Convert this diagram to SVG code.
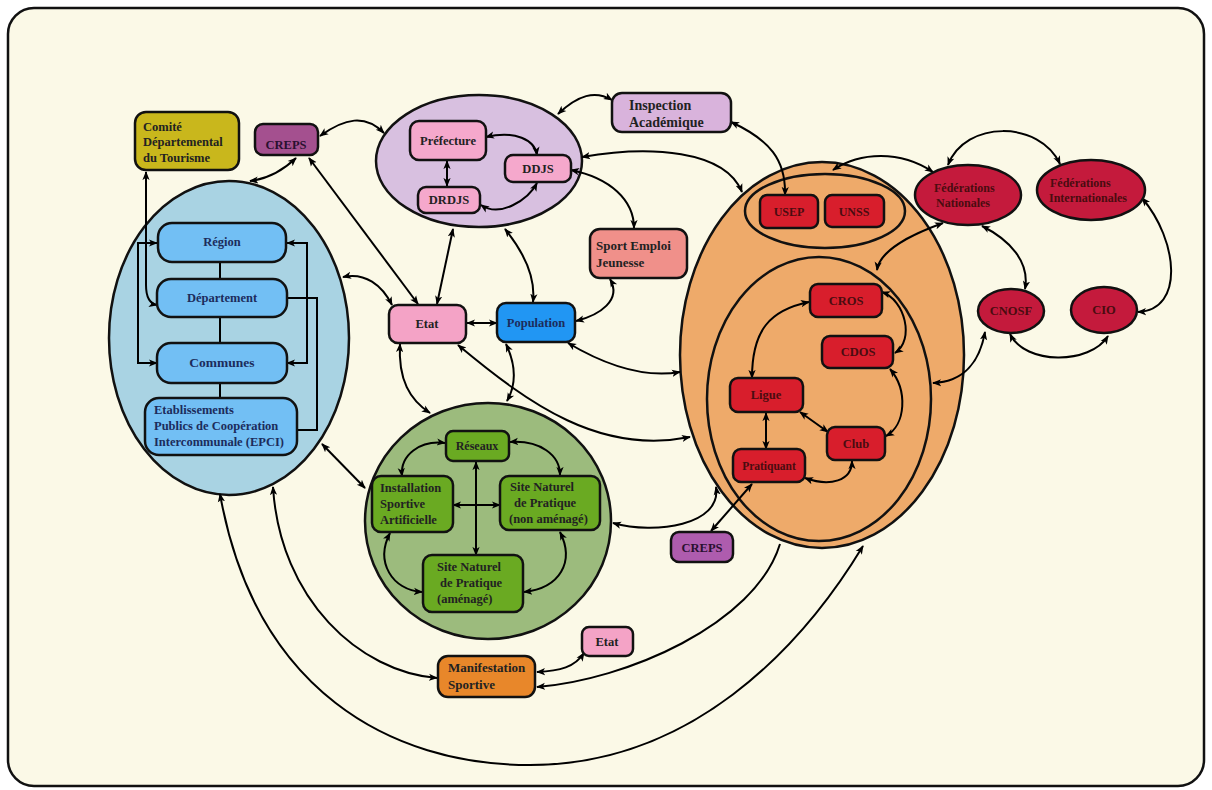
<svg xmlns="http://www.w3.org/2000/svg" width="1212" height="790" viewBox="0 0 1212 790">
<defs>
<marker id="ar" viewBox="0 0 10 10" refX="9" refY="5" markerWidth="9" markerHeight="9" markerUnits="userSpaceOnUse" orient="auto-start-reverse">
<path d="M0,1 L10,5 L0,9 L2.5,5 z" fill="#000"/>
</marker>
<style>
.n{stroke:#111;stroke-width:2.5}
.t{font-family:"Liberation Serif","Times New Roman",serif;font-weight:bold;font-size:12.5px;fill:#222}
.c{text-anchor:middle}
.bl{fill:#1c2c5c}
.rd{fill:#4a0c10}
.e{fill:none;stroke:#000;stroke-width:2;marker-start:url(#ar);marker-end:url(#ar)}
.e1{fill:none;stroke:#000;stroke-width:2;marker-end:url(#ar)}
.e0{fill:none;stroke:#000;stroke-width:2}
.blue{fill:#72bff4}
.pink{fill:#f5a8cc}
.grn{fill:#6aaa22}
.red{fill:#d81e2c}
.crim{fill:#c41a3c}
</style>
</defs>
<rect x="0" y="0" width="1212" height="790" fill="#fff"/>
<rect x="8" y="8" width="1196" height="778" rx="26" fill="#fbf9e7" stroke="#111" stroke-width="2.5"/>

<g id="containers">
<g id="collectivites"><ellipse cx="229" cy="338" rx="120" ry="157" fill="#a9d3e3" class="n"/></g>
<g id="etat-services"><ellipse cx="479" cy="161" rx="103" ry="66" fill="#d8c0e0" class="n"/></g>
<g id="equipements"><ellipse cx="488" cy="521" rx="123" ry="118" fill="#9cbb7d" class="n"/></g>
<g id="mouvement-sportif"><ellipse cx="822" cy="355" rx="142" ry="193" fill="#eeaa6a" class="n"/>
<ellipse cx="819" cy="399" rx="112" ry="142" fill="none" class="n"/>
<ellipse cx="825" cy="211" rx="80" ry="37" fill="none" class="n"/></g>
</g>

<g id="connectors">
<path class="e" d="M146,172 L146,285 Q146,303 157,305"/>
<path class="e" d="M250,181 Q275,178 296,158"/>
<path class="e" d="M320,136 C345,118 365,114 384,133"/>
<path class="e" d="M309,158 L418,304"/>
<path class="e" d="M343,277 C365,272 382,285 392,305"/>
<path class="e" d="M453,229 L437,304"/>
<path class="e" d="M505,229 C522,250 536,275 533,302"/>
<path class="e" d="M467,323 L497,323"/>
<path class="e" d="M558,114 C578,95 595,90 612,100"/>
<path class="e" d="M731,122 C770,140 786,160 785,195"/>
<path class="e" d="M582,157 C650,145 725,150 742,192"/>
<path class="e" d="M571,170 C610,178 634,200 634,228"/>
<path class="e" d="M610,279 C622,300 600,315 576,321"/>
<path class="e" d="M568,343 C605,365 645,378 680,372"/>
<path class="e" d="M458,345 C530,405 600,455 690,437"/>
<path class="e" d="M400,344 C398,380 410,400 430,413"/>
<path class="e" d="M506,344 C516,365 516,385 507,401"/>
<path class="e" d="M322,444 L365,488"/>
<path class="e" d="M613,523 C655,535 722,525 716,487"/>
<path class="e" d="M711,531 L752,484"/>
<path class="e" d="M273,487 C280,600 360,672 437,678"/>
<path class="e" d="M220,494 C255,690 390,765 530,765 C690,765 800,650 863,546"/>
<path class="e1" d="M780,544 C755,625 625,680 537,687"/>
<path class="e" d="M584,653 C575,667 560,671 537,672"/>
<path class="e0" d="M220,262 L220,279 M220,317 L220,343 M220,383 L220,398"/>
<path class="e" d="M157,243 L138,243 L138,363 L157,363"/>
<path class="e" d="M287,243 L307,243 L307,363 L287,363"/>
<path class="e0" d="M287,298 L317,298 L317,430 L298,430"/>
<path class="e" d="M447,161 L447,186"/>
<path class="e" d="M486,137 C515,130 535,140 537,155"/>
<path class="e" d="M481,205 C500,218 528,200 537,183"/>
<path class="e" d="M476,462 L476,555"/>
<path class="e" d="M453,505 L500,505"/>
<path class="e" d="M445,443 C420,440 400,455 402,476"/>
<path class="e" d="M510,442 C540,440 560,455 560,475"/>
<path class="e" d="M390,533 C375,562 392,590 422,592"/>
<path class="e" d="M560,532 C575,562 560,588 524,592"/>
<path class="e" d="M948,165 C965,120 1040,120 1060,164"/>
<path class="e" d="M933,172 C900,150 860,152 833,170"/>
<path class="e" d="M943,223 C910,235 880,250 877,270"/>
<path class="e" d="M982,226 C1010,240 1030,262 1025,289"/>
<path class="e" d="M1142,198 C1178,240 1185,310 1138,312"/>
<path class="e" d="M1010,334 C1025,365 1090,365 1108,336"/>
<path class="e" d="M985,332 C980,360 965,382 933,383"/>
<path class="e" d="M809,302 C770,310 752,330 752,378"/>
<path class="e" d="M882,292 C905,300 915,340 895,353"/>
<path class="e" d="M890,369 C908,390 906,425 886,436"/>
<path class="e" d="M828,432 L800,412"/>
<path class="e" d="M766,413 L766,449"/>
<path class="e" d="M805,478 C830,487 852,481 852,461"/>
</g>

<g id="comite-tourisme"><rect x="135" y="112" width="104" height="58" rx="11" fill="#c9b71c" class="n"/>
<text class="t" x="143" y="131">Comité</text><text class="t" x="143" y="146">Départemental</text><text class="t" x="143" y="162">du Tourisme</text></g>
<g id="creps-1"><rect x="255" y="124" width="63" height="31" rx="8" fill="#a4508f" class="n"/><text class="t c" x="286" y="149" style="fill:#2a1030">CREPS</text></g>

<g id="region"><rect x="158" y="223" width="128" height="39" rx="14" class="n blue"/><text class="t c bl" x="222" y="246">Région</text></g>
<g id="departement"><rect x="157" y="279" width="130" height="38" rx="14" class="n blue"/><text class="t c bl" x="222" y="302">Département</text></g>
<g id="communes"><rect x="157" y="343" width="130" height="40" rx="14" class="n blue"/><text class="t c bl" x="222" y="367" style="font-size:13.5px">Communes</text></g>
<g id="epci"><rect x="145" y="398" width="152" height="57" rx="14" class="n blue"/>
<text class="t bl" x="154" y="414">Etablissements</text><text class="t bl" x="154" y="430">Publics de Coopération</text><text class="t bl" x="154" y="446">Intercommunale (EPCI)</text></g>

<g id="prefecture"><rect x="410" y="121" width="76" height="39" rx="9" class="n pink"/><text class="t c" x="448" y="145">Préfecture</text></g>
<g id="ddjs"><rect x="505" y="155" width="66" height="27" rx="8" class="n pink"/><text class="t c" x="538" y="173">DDJS</text></g>
<g id="drdjs"><rect x="418" y="187" width="62" height="26" rx="8" class="n pink"/><text class="t c" x="449" y="204">DRDJS</text></g>

<g id="inspection"><rect x="612" y="93" width="119" height="39" rx="10" fill="#d9b3dc" class="n"/>
<text class="t" x="629" y="110" style="font-size:14px">Inspection</text><text class="t" x="629" y="127" style="font-size:14px">Académique</text></g>
<g id="sport-emploi"><rect x="590" y="229" width="97" height="49" rx="10" fill="#f0908a" class="n"/>
<text class="t" x="596" y="250" style="font-size:13px">Sport Emploi</text><text class="t" x="596" y="267" style="font-size:13px">Jeunesse</text></g>

<g id="etat"><rect x="389" y="305" width="77" height="38" rx="9" fill="#f4a3c6" class="n"/><text class="t c" x="427" y="328">Etat</text></g>
<g id="population"><rect x="497" y="303" width="78" height="39" rx="9" fill="#2196f3" class="n"/><text class="t c bl" x="536" y="327">Population</text></g>

<g id="reseaux"><rect x="446" y="431" width="63" height="30" rx="7" class="n grn"/><text class="t c" x="477" y="450" style="font-size:12px">Réseaux</text></g>
<g id="installation"><rect x="372" y="476" width="81" height="56" rx="9" class="n grn"/>
<text class="t" x="380" y="492">Installation</text><text class="t" x="380" y="508">Sportive</text><text class="t" x="380" y="524">Artificielle</text></g>
<g id="site-non-amenage"><rect x="500" y="476" width="100" height="54" rx="9" class="n grn"/>
<text class="t" x="510" y="491">Site Naturel</text><text class="t" x="514" y="507">de Pratique</text><text class="t" x="509" y="523">(non aménagé)</text></g>
<g id="site-amenage"><rect x="423" y="555" width="100" height="57" rx="9" class="n grn"/>
<text class="t" x="437" y="571">Site Naturel</text><text class="t" x="440" y="587">de Pratique</text><text class="t" x="437" y="603">(aménagé)</text></g>

<g id="usep"><rect x="760" y="195" width="58" height="33" rx="7" class="n red"/><text class="t c rd" x="789" y="216" style="font-size:12px">USEP</text></g>
<g id="unss"><rect x="825" y="195" width="59" height="32" rx="7" class="n red"/><text class="t c rd" x="854" y="216" style="font-size:12px">UNSS</text></g>
<g id="cros"><rect x="810" y="284" width="72" height="33" rx="8" class="n red"/><text class="t c rd" x="846" y="305">CROS</text></g>
<g id="cdos"><rect x="822" y="336" width="71" height="32" rx="8" class="n red"/><text class="t c rd" x="858" y="356">CDOS</text></g>
<g id="ligue"><rect x="730" y="378" width="73" height="34" rx="8" class="n red"/><text class="t c rd" x="766" y="399">Ligue</text></g>
<g id="club"><rect x="827" y="427" width="58" height="33" rx="8" class="n red"/><text class="t c rd" x="856" y="448">Club</text></g>
<g id="pratiquant"><rect x="733" y="449" width="72" height="33" rx="8" class="n red"/><text class="t c rd" x="769" y="470" style="font-size:11.5px">Pratiquant</text></g>

<g id="federations-nationales"><ellipse cx="968" cy="195" rx="53" ry="30" class="n crim"/>
<text class="t rd" x="934" y="192" style="font-size:12px">Fédérations</text><text class="t rd" x="936" y="207" style="font-size:12px">Nationales</text></g>
<g id="federations-internationales"><ellipse cx="1091" cy="190" rx="54" ry="30" class="n crim"/>
<text class="t rd" x="1050" y="187" style="font-size:12px">Fédérations</text><text class="t rd" x="1049" y="202" style="font-size:12px">Internationales</text></g>
<g id="cnosf"><ellipse cx="1011" cy="311" rx="33" ry="22" class="n crim"/><text class="t c rd" x="1011" y="315">CNOSF</text></g>
<g id="cio"><ellipse cx="1104" cy="310" rx="33" ry="23" class="n crim"/><text class="t c rd" x="1104" y="314">CIO</text></g>

<g id="creps-2"><rect x="671" y="532" width="62" height="30" rx="8" fill="#ae5cae" class="n"/><text class="t c" x="702" y="552" style="fill:#2a1030">CREPS</text></g>
<g id="etat-2"><rect x="582" y="627" width="51" height="29" rx="7" fill="#f4a3c6" class="n"/><text class="t c" x="607" y="646">Etat</text></g>
<g id="manifestation"><rect x="438" y="656" width="97" height="41" rx="10" fill="#e8872a" class="n"/>
<text class="t" x="448" y="672" style="font-size:13px">Manifestation</text><text class="t" x="448" y="689" style="font-size:13px">Sportive</text></g>
</svg>
